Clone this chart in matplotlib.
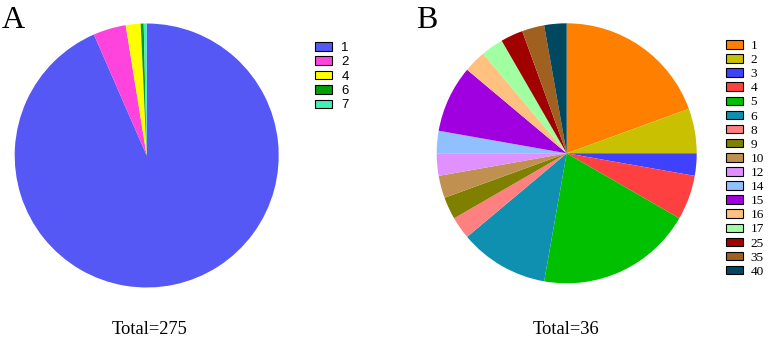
import matplotlib
matplotlib.use("Agg")
import matplotlib.pyplot as plt
from matplotlib.patches import Patch

# Data
labels_a = ["1", "2", "4", "6", "7"]
values_a = [257, 11, 5, 1, 1]
colors_a = ["#5558F5", "#FF44DD", "#FFFF00", "#00A000", "#44EEBB"]
total_a = "Total=275"

labels_b = ["1", "2", "3", "4", "5", "6", "8", "9", "10", "12", "14", "15",
            "16", "17", "25", "35", "40"]
values_b = [7, 2, 1, 2, 7, 4, 1, 1, 1, 1, 1, 3, 1, 1, 1, 1, 1]
colors_b = ["#FF8000", "#C8C000", "#4040FF", "#FF4040", "#00C000", "#1090B0",
            "#FF8080", "#808000", "#C09050", "#E090FF", "#90C0FF", "#A000E0",
            "#FFC080", "#A0FFA0", "#A00000", "#A06020", "#004860"]
total_b = "Total=36"

W, H = 769, 345
fig = plt.figure(figsize=(W / 100, H / 100), dpi=100)
fig.patch.set_facecolor("white")

serif = ["Liberation Serif", "DejaVu Serif"]
sans = ["Liberation Sans", "DejaVu Sans"]


def pie_axes(cx, cy, r):
    return fig.add_axes([(cx - r) / W, (H - cy - r) / H, 2 * r / W, 2 * r / H])


ax_a = pie_axes(146.7, 155.5, 132)
ax_a.pie(values_a, colors=colors_a, startangle=90, counterclock=False,
         radius=1, wedgeprops=dict(linewidth=0))
ax_a.set_xlim(-1, 1); ax_a.set_ylim(-1, 1); ax_a.set_aspect("equal")
ax_a.axis("off")

ax_b = pie_axes(566.7, 153.3, 130)
ax_b.pie(values_b, colors=colors_b, startangle=90, counterclock=False,
         radius=1, wedgeprops=dict(linewidth=0))
ax_b.set_xlim(-1, 1); ax_b.set_ylim(-1, 1); ax_b.set_aspect("equal")
ax_b.axis("off")

# Panel letters
fig.text(2 / W, 1 - 6 / H, "A", fontsize=23, family=serif, va="top", ha="left")
fig.text(416 / W, 1 - 6 / H, "B", fontsize=23, family=serif, va="top", ha="left")

# Totals
fig.text(150 / W, 1 - 330 / H, total_a, fontsize=13.3, family=serif, ha="center", va="center")
fig.text(566 / W, 1 - 330 / H, total_b, fontsize=13.3, family=serif, ha="center", va="center")

# Legends
h_a = [Patch(facecolor=c, edgecolor="black", linewidth=0.8) for c in colors_a]
fig.legend(h_a, labels_a, loc="upper left", bbox_to_anchor=(315 / W, 1 - 42 / H),
           frameon=False, borderpad=0, borderaxespad=0,
           prop=dict(family=sans, size=9.5), handlelength=1.3, handleheight=0.62,
           handletextpad=0.7, labelspacing=0.18)

h_b = [Patch(facecolor=c, edgecolor="black", linewidth=0.8) for c in colors_b]
fig.legend(h_b, labels_b, loc="upper left", bbox_to_anchor=(726 / W, 1 - 40 / H),
           frameon=False, borderpad=0, borderaxespad=0,
           prop=dict(family=serif, size=9.5), handlelength=1.3, handleheight=0.62,
           handletextpad=0.55, labelspacing=0.16)

fig.savefig("out.png", dpi=100, facecolor="white")
